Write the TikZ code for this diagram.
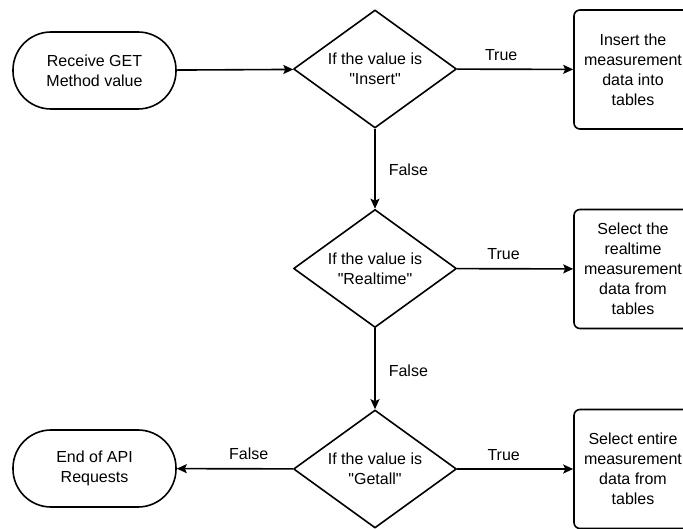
\documentclass[tikz,border=0pt]{standalone}
\usepackage{fontspec}
\setmainfont{Liberation Sans}
\usetikzlibrary{shapes.geometric,arrows.meta}
\begin{document}
\begin{tikzpicture}[x=1pt,y=-1pt,line join=round,
    font=\fontsize{16}{20}\selectfont,
    terminale/.style={draw,line width=1.6pt,rounded corners=38pt,
                      minimum width=163pt,minimum height=77pt,
                      align=center,inner sep=0pt},
    decisione/.style={diamond,draw,line width=1.6pt,aspect=1.38,
                      minimum width=163pt,minimum height=118pt,
                      align=center,inner sep=0pt},
    blocco/.style={draw,line width=1.6pt,rounded corners=6pt,
                   minimum width=118pt,minimum height=119pt,
                   align=center,inner sep=0pt},
    freccia/.style={line width=1.6pt,-{Stealth[length=10pt,width=9pt,inset=2pt]}},
    etichetta/.style={inner sep=2pt}]

  \clip (0,0) rectangle (683,529);
  \useasboundingbox (0,0) rectangle (683,529);

  % ---- inizio e fine ------------------------------------------------------
  \node[terminale] (ricevi) at (94.5,70.5)  {Receive GET\\Method value};
  \node[terminale] (fine)   at (94.5,468.5) {End of API\\Requests};

  % ---- le tre decisioni ---------------------------------------------------
  \node[decisione] (dInsert)   at (375,69)
        {If the value is\\\textquotedbl Insert\textquotedbl};
  \node[decisione] (dRealtime) at (375,268.5)
        {If the value is\\\textquotedbl Realtime\textquotedbl};
  \node[decisione] (dGetall)   at (375,469)
        {If the value is\\\textquotedbl Getall\textquotedbl};

  % ---- le azioni (tagliate sul bordo destro) ------------------------------
  \node[blocco] (inserisci) at (633,69.5)
        {Insert the\\measurement\\data into\\tables};
  \node[blocco] (selReal)   at (633,269)
        {Select the\\realtime\\measurement\\data from\\tables};
  \node[blocco] (selTutto)  at (633,469)
        {Select entire\\measurement\\data from\\tables};

  % ---- frecce -------------------------------------------------------------
  \draw[freccia] (ricevi) -- (dInsert);

  \draw[freccia] (dInsert) -- node[etichetta,pos=0.38,above=6pt] {True} (inserisci);
  \draw[freccia] (dInsert) -- node[etichetta,pos=0.51,right=11pt] {False} (dRealtime);

  \draw[freccia] (dRealtime) -- node[etichetta,pos=0.4,above=6pt] {True} (selReal);
  \draw[freccia] (dRealtime) -- node[etichetta,pos=0.52,right=11pt] {False} (dGetall);

  \draw[freccia] (dGetall) -- node[etichetta,pos=0.4,above=6pt] {True} (selTutto);
  \draw[freccia] (dGetall) -- node[etichetta,pos=0.38,above=6pt] {False} (fine);

\end{tikzpicture}
\end{document}
